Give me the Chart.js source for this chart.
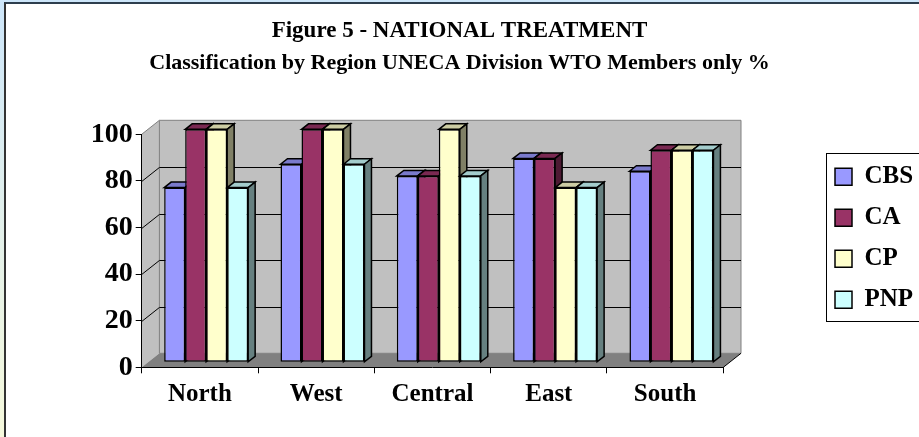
<!DOCTYPE html>
<html>
<head>
<meta charset="utf-8">
<title>Figure 5 - National Treatment</title>
<script src="https://cdn.jsdelivr.net/npm/chart.js@4.4.1/dist/chart.umd.min.js"></script>
<style>
  html, body { margin: 0; padding: 0; background: #fff; }
  #leftStrip { position: absolute; left: 0; top: 0; width: 4px; height: 437px; background: linear-gradient(#cde6fa, #f6f9dc); }
  #topStrip { position: absolute; left: 0; top: 0; width: 919px; height: 2px; background: #cde6fa; }
  #frame { position: absolute; left: 4px; top: 2px; width: 915px; height: 435px; box-sizing: border-box;
           border-left: 2px solid #333; border-top: 2px solid #2d3e4e; }
  #wrap { position: absolute; left: 0; top: 0; width: 919px; height: 437px; }
</style>
</head>
<body>
<div id="leftStrip"></div>
<div id="topStrip"></div>
<div id="frame"></div>
<div id="wrap"><canvas id="chart"></canvas></div>
<script>
const regions = ['North', 'West', 'Central', 'East', 'South'];
const cbsValues = [75, 85, 80, 87.5, 82];
const caValues = [100, 100, 80, 87.5, 91];
const cpValues = [100, 100, 100, 75, 91];
const pnpValues = [75, 85, 80, 75, 91];
const yTickValues = [0, 20, 40, 60, 80, 100];
const titleText = 'Figure 5 - NATIONAL TREATMENT';
const subtitleText = 'Classification by Region UNECA Division WTO Members only %';

const serif = "'Liberation Serif', 'Times New Roman', serif";

// 3D look: offset of the back wall and of the bars (pixels)
const WALL_DX = 17.7, WALL_DY = -14;
const BAR_SHIFT_X = 6.3, BAR_SHIFT_Y = -5;
const BAR_DX = 7, BAR_DY = -5.5;

function shade(hex, f) {
  const n = parseInt(hex.slice(1), 16);
  const r = Math.round(((n >> 16) & 255) * f);
  const g = Math.round(((n >> 8) & 255) * f);
  const b = Math.round((n & 255) * f);
  return `rgb(${r}, ${g}, ${b})`;
}

function poly(ctx, pts, fill, stroke, lw) {
  ctx.beginPath();
  ctx.moveTo(pts[0][0], pts[0][1]);
  for (let i = 1; i < pts.length; i++) ctx.lineTo(pts[i][0], pts[i][1]);
  ctx.closePath();
  if (fill) { ctx.fillStyle = fill; ctx.fill(); }
  if (stroke) { ctx.strokeStyle = stroke; ctx.lineWidth = lw || 1; ctx.stroke(); }
}

function line(ctx, x1, y1, x2, y2, color) {
  ctx.beginPath();
  ctx.moveTo(x1, y1);
  ctx.lineTo(x2, y2);
  ctx.strokeStyle = color;
  ctx.lineWidth = 1;
  ctx.stroke();
}

const box3d = {
  id: 'box3d',
  beforeDraw(chart) {
    const { ctx, chartArea: a, scales: { y } } = chart;
    const L = a.left, R = a.right, T = a.top, B = a.bottom;
    ctx.save();
    // left side wall and back wall
    poly(ctx, [[L, T], [L + WALL_DX, T + WALL_DY], [L + WALL_DX, B + WALL_DY], [L, B]], '#c0c0c0');
    poly(ctx, [[L + WALL_DX, T + WALL_DY], [R + WALL_DX, T + WALL_DY], [R + WALL_DX, B + WALL_DY], [L + WALL_DX, B + WALL_DY]], '#c0c0c0', '#808080');
    line(ctx, L, T, L + WALL_DX, T + WALL_DY, '#808080');
    // gridlines on both walls
    yTickValues.forEach(v => {
      if (v === 0 || v === 100) return;
      const py = Math.round(y.getPixelForValue(v)) + 0.5;
      line(ctx, L, py, L + WALL_DX, py + WALL_DY, '#000');
      line(ctx, L + WALL_DX, py + WALL_DY, R + WALL_DX, py + WALL_DY, '#000');
    });
    // floor
    poly(ctx, [[L, B], [R, B], [R + WALL_DX, B + WALL_DY], [L + WALL_DX, B + WALL_DY]], '#808080');
    line(ctx, R, B, R + WALL_DX, B + WALL_DY, '#000');
    ctx.restore();
  },
  // bars are drawn below, left to right, so each front face hides its neighbour's side
  beforeDatasetDraw() {
    return false;
  },
  afterDatasetsDraw(chart) {
    const ctx = chart.ctx;
    ctx.save();
    ctx.translate(BAR_SHIFT_X, BAR_SHIFT_Y);
    chart.data.datasets.forEach((ds, i) => {
      chart.getDatasetMeta(i).data.forEach(bar => {
        bar.draw(ctx);
        const { x, y, base, width } = bar.getProps(['x', 'y', 'base', 'width']);
        const l = x - width / 2, r = x + width / 2;
        poly(ctx, [[l, y], [l + BAR_DX, y + BAR_DY], [r + BAR_DX, y + BAR_DY], [r, y]], shade(ds.backgroundColor, 0.8), '#000', 1.5);
        poly(ctx, [[r, y], [r + BAR_DX, y + BAR_DY], [r + BAR_DX, base + BAR_DY], [r, base]], shade(ds.backgroundColor, 0.5), '#000', 1.5);
      });
    });
    ctx.restore();
  },
  afterDraw(chart) {
    // frame round the legend
    const boxes = chart.legend.legendHitBoxes;
    if (!boxes || !boxes.length) return;
    const first = boxes[0], last = boxes[boxes.length - 1];
    const ctx = chart.ctx;
    ctx.save();
    ctx.strokeStyle = '#000';
    ctx.lineWidth = 1;
    const left = Math.round(first.left - 9) + 0.5;
    const top = Math.round(first.top - 11) + 0.5;
    const bottom = Math.round(last.top + last.height + 9) + 0.5;
    ctx.strokeRect(left, top, chart.width + 5 - left, bottom - top);
    ctx.restore();
  }
};

const barStyle = { borderColor: '#000', borderWidth: 1.5, borderSkipped: false, clip: false };

new Chart(document.getElementById('chart'), {
  type: 'bar',
  data: {
    labels: regions,
    datasets: [
      { label: 'CBS', data: cbsValues, backgroundColor: '#9999ff', ...barStyle },
      { label: 'CA', data: caValues, backgroundColor: '#993366', ...barStyle },
      { label: 'CP', data: cpValues, backgroundColor: '#ffffcc', ...barStyle },
      { label: 'PNP', data: pnpValues, backgroundColor: '#ccffff', ...barStyle }
    ]
  },
  options: {
    responsive: true,
    maintainAspectRatio: false,
    animation: false,
    layout: { padding: 0 },
    datasets: { bar: { categoryPercentage: 0.722, barPercentage: 1 } },
    plugins: {
      title: {
        display: true,
        text: titleText,
        color: '#000',
        font: { family: serif, size: 23, weight: 'bold', lineHeight: 1.2 },
        padding: { top: 17.2, bottom: 0 }
      },
      subtitle: {
        display: true,
        text: subtitleText,
        color: '#000',
        font: { family: serif, size: 22, weight: 'bold', lineHeight: 1.2 },
        padding: { top: 5.5, bottom: 57.6 }
      },
      legend: {
        position: 'right',
        align: 'start',
        fullSize: false,
        maxWidth: 100,
        title: { display: true, text: '', padding: 0, font: { size: 10, lineHeight: 1.4 } },
        labels: {
          color: '#000',
          boxWidth: 17,
          boxHeight: 17,
          padding: 16,
          font: { family: serif, size: 25, weight: 'bold' }
        }
      },
      tooltip: { enabled: false }
    },
    scales: {
      x: {
        grid: { drawOnChartArea: false, drawTicks: true, tickLength: 6, color: '#000', offset: true },
        border: { display: true, color: '#000', width: 1 },
        ticks: { color: '#000', padding: 6, maxRotation: 0, font: { family: serif, size: 25, weight: 'bold' } },
        afterFit(scale) { scale.height = 69.7; }
      },
      y: {
        min: 0,
        max: 100,
        afterBuildTicks(scale) { scale.ticks = yTickValues.map(v => ({ value: v })); },
        grid: { drawOnChartArea: false, drawTicks: true, tickLength: 6, color: '#000' },
        border: { display: true, color: '#000', width: 1 },
        ticks: { color: '#000', padding: 3, font: { family: serif, size: 28, weight: 'bold' } },
        afterFit(scale) { scale.width = 141.7; }
      },
      // empty room between the plot box and the legend
      gap: {
        type: 'linear',
        position: 'right',
        display: true,
        grid: { display: false },
        border: { display: false },
        ticks: { display: false },
        afterFit(scale) { scale.width = 95.7; }
      }
    }
  },
  plugins: [box3d]
});
</script>
</body>
</html>
